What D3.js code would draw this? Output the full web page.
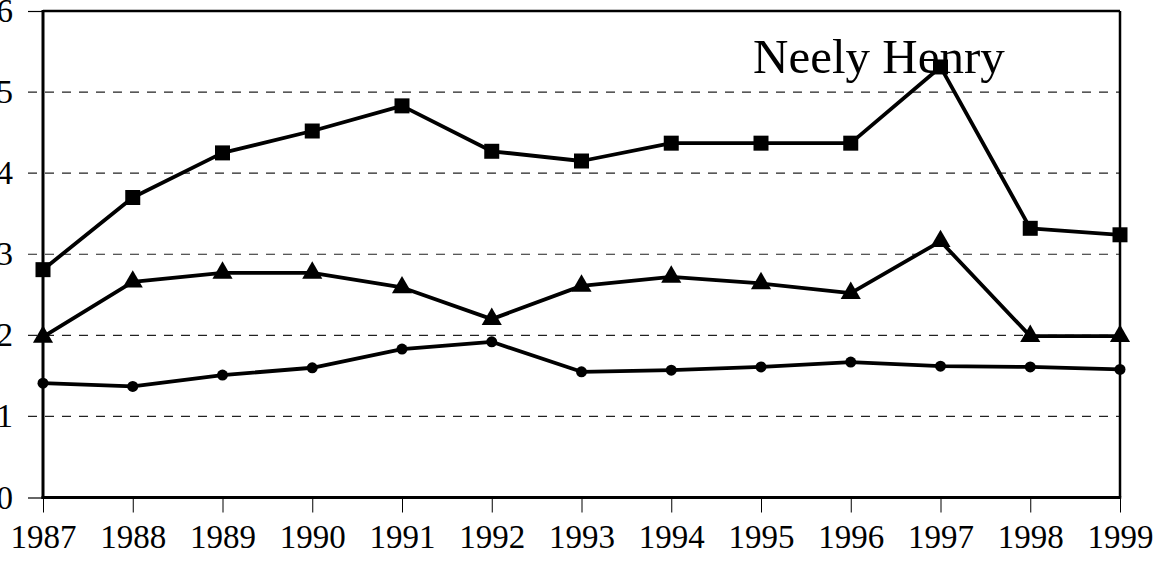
<!DOCTYPE html>
<html lang="en">
<head>
<meta charset="UTF-8">
<title>Neely Henry</title>
<script src="https://cdn.jsdelivr.net/npm/d3@7"></script>
<style>
  body { margin: 0; background: #fff; }
  svg { display: block; }
  text { font-family: "Liberation Serif", "Times New Roman", serif; fill: #000; }
</style>
</head>
<body>
<div id="chart"></div>
<script>
    var years = [1987, 1988, 1989, 1990, 1991, 1992, 1993, 1994, 1995, 1996, 1997, 1998, 1999];
    var squareVals = [2.81, 3.70, 4.25, 4.52, 4.83, 4.27, 4.15, 4.37, 4.37, 4.37, 5.31, 3.32, 3.24];
    var triangleVals = [1.98, 2.66, 2.77, 2.77, 2.59, 2.20, 2.61, 2.72, 2.64, 2.52, 3.16, 1.99, 1.99];
    var circleVals = [1.41, 1.37, 1.51, 1.60, 1.83, 1.92, 1.55, 1.57, 1.61, 1.67, 1.62, 1.61, 1.58];
    var yTicks = [0, 1, 2, 3, 4, 5, 6];
    var title = "Neely Henry";

    var W = 1160, H = 561;
    var margin = {top: 11, right: 40, bottom: 63.5, left: 43};
    var w = W - margin.left - margin.right;
    var h = H - margin.top - margin.bottom;

    var svg = d3.select("#chart").append("svg")
        .attr("width", W)
        .attr("height", H);

    var g = svg.append("g")
        .attr("transform", "translate(" + margin.left + "," + margin.top + ")");

    var x = d3.scaleLinear().domain([1987, 1999]).range([0, w]);
    var y = d3.scaleLinear().domain([0, 6]).range([h, 0]);

    // dashed gridlines, they also stick out left of the axis like ticks
    g.selectAll(".grid")
        .data(yTicks.filter(function (d) { return d > 0 && d < 6; }))
        .enter().append("line")
        .attr("x1", -15).attr("x2", w)
        .attr("y1", function (d) { return y(d); })
        .attr("y2", function (d) { return y(d); })
        .attr("stroke", "#222")
        .attr("stroke-width", 1.2)
        .attr("stroke-dasharray", "9,8");

    // y axis
    var yAxis = g.append("g")
        .call(d3.axisLeft(y).tickValues(yTicks).tickSize(15).tickPadding(15).tickFormat(d3.format("d")));
    yAxis.select(".domain").remove();
    yAxis.selectAll(".tick line")
        .attr("stroke", function (d) { return (d === 0 || d === 6) ? "#000" : "none"; })
        .attr("stroke-width", 1.2);
    yAxis.selectAll("text")
        .style("font-size", "33px")
        .style("font-family", '"Liberation Serif", "Times New Roman", serif')
        .attr("fill", "#000");

    // x axis
    var xAxis = g.append("g")
        .attr("transform", "translate(0," + h + ")")
        .call(d3.axisBottom(x).tickValues(years).tickSize(15).tickPadding(12).tickFormat(d3.format("d")));
    xAxis.select(".domain").remove();
    xAxis.selectAll(".tick line").attr("stroke", "#000").attr("stroke-width", 1);
    xAxis.selectAll("text")
        .style("font-size", "33px")
        .style("font-family", '"Liberation Serif", "Times New Roman", serif')
        .attr("fill", "#000");

    // frame
    g.append("line").attr("x1", 0).attr("x2", w).attr("y1", 0).attr("y2", 0)
        .attr("stroke", "#000").attr("stroke-width", 2.5);
    g.append("line").attr("x1", w).attr("x2", w).attr("y1", 0).attr("y2", h)
        .attr("stroke", "#000").attr("stroke-width", 2.5);
    g.append("line").attr("x1", 0).attr("x2", 0).attr("y1", -1).attr("y2", h + 1.5)
        .attr("stroke", "#000").attr("stroke-width", 3);
    g.append("line").attr("x1", -1.5).attr("x2", w + 1.2).attr("y1", h).attr("y2", h)
        .attr("stroke", "#000").attr("stroke-width", 3);

    // title
    g.append("text")
        .attr("x", x(1987) + 710)
        .attr("y", 62)
        .style("font-size", "49px")
        .text(title);

    var line = d3.line()
        .x(function (d, i) { return x(years[i]); })
        .y(function (d) { return y(d); });

    function series(vals, symType, size) {
        g.append("path")
            .datum(vals)
            .attr("d", line)
            .attr("fill", "none")
            .attr("stroke", "#000")
            .attr("stroke-width", 3.8)
            .attr("stroke-linejoin", "round");
        var sym = d3.symbol().type(symType).size(size);
        g.selectAll(null)
            .data(vals)
            .enter().append("path")
            .attr("d", sym)
            .attr("transform", function (d, i) {
                return "translate(" + x(years[i]) + "," + y(d) + ")";
            })
            .attr("fill", "#000");
    }

    series(circleVals, d3.symbolCircle, 95);
    series(triangleVals, d3.symbolTriangle, 175);
    series(squareVals, d3.symbolSquare, 225);
</script>
</body>
</html>
